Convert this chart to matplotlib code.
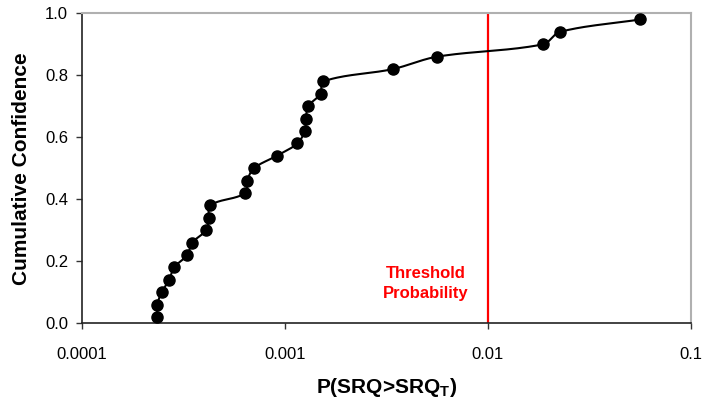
import numpy as np
import matplotlib
matplotlib.use("Agg")
import matplotlib.pyplot as plt

plt.rcParams['font.family'] = ['Liberation Sans', 'DejaVu Sans']
plt.rcParams['mathtext.fontset'] = 'custom'
plt.rcParams['mathtext.rm'] = 'Liberation Sans:bold'
plt.rcParams['mathtext.bf'] = 'Liberation Sans:bold'

# Data
prob = [2.35e-4, 2.35e-4, 2.47e-4, 2.69e-4, 2.84e-4, 3.30e-4, 3.49e-4, 4.08e-4,
        4.22e-4, 4.27e-4, 6.37e-4, 6.52e-4, 7.03e-4, 9.10e-4, 1.15e-3, 1.25e-3,
        1.27e-3, 1.30e-3, 1.50e-3, 1.54e-3, 3.40e-3, 5.61e-3, 0.0187, 0.0226, 0.0561]
conf = [0.02, 0.06, 0.10, 0.14, 0.18, 0.22, 0.26, 0.30, 0.34, 0.38, 0.42, 0.46,
        0.50, 0.54, 0.58, 0.62, 0.66, 0.70, 0.74, 0.78, 0.82, 0.86, 0.90, 0.94, 0.98]
threshold = 0.01
xticks = [0.0001, 0.001, 0.01, 0.1]
xticklabels = ['0.0001', '0.001', '0.01', '0.1']
yticks = [0.0, 0.2, 0.4, 0.6, 0.8, 1.0]

fig = plt.figure(figsize=(7.02, 4.0), dpi=100)
ax = fig.add_axes([0.1168, 0.19175, 0.9843 - 0.1168, 0.9668 - 0.19175])

# Smoothed line: Bezier segments with tangent lengths scaled by segment length
SX, SY = 203.0, 310.0
u = (np.log10(prob) + 4) * SX
v = np.array(conf) * SY
P = np.column_stack([u, v])
n = len(P)
tang = np.zeros_like(P)
for i in range(n):
    a = P[max(i - 1, 0)]
    b = P[min(i + 1, n - 1)]
    d = b - a
    nd = np.hypot(*d)
    tang[i] = d / nd if nd > 0 else 0
curve = []
for i in range(n - 1):
    p1, p2 = P[i], P[i + 1]
    L = np.hypot(*(p2 - p1))
    c1 = p1 + tang[i] * L / 3.0
    c2 = p2 - tang[i + 1] * L / 3.0
    t = np.linspace(0, 1, 30)[:, None]
    bz = ((1 - t) ** 3) * p1 + 3 * ((1 - t) ** 2) * t * c1 + 3 * (1 - t) * t ** 2 * c2 + t ** 3 * p2
    curve.append(bz)
curve = np.vstack(curve)
cx = 10 ** (curve[:, 0] / SX - 4)
cy = curve[:, 1] / SY

ax.plot(cx, cy, color='black', lw=1.5, zorder=3)
ax.plot(prob, conf, 'o', color='black', markersize=8, zorder=4)
ax.axvline(threshold, color='#ff0000', lw=1.6, zorder=2)
ax.text(0.00495, 0.128, 'Threshold\nProbability', color='#ff0000', fontsize=12,
        fontweight='bold', ha='center', va='center', linespacing=1.45)

ax.set_xscale('log')
ax.set_xlim(0.0001, 0.1)
ax.set_ylim(0, 1.0)
ax.set_xticks(xticks)
ax.set_xticklabels(xticklabels)
ax.xaxis.set_minor_locator(matplotlib.ticker.NullLocator())
ax.set_yticks(yticks)
ax.set_yticklabels([f'{t:.1f}' for t in yticks])
ax.tick_params(axis='both', labelsize=12, direction='out', length=4, width=1,
               color='#333333')
ax.tick_params(axis='x', pad=13)
ax.tick_params(axis='y', pad=6)

for s in ['left', 'bottom']:
    ax.spines[s].set_color('#222222')
    ax.spines[s].set_linewidth(1.2)
for s in ['top', 'right']:
    ax.spines[s].set_color('#b0b0b0')
    ax.spines[s].set_linewidth(1.5)

ax.set_xlabel(r'P(SRQ>SRQ$_\mathbf{T}$)', fontsize=15, fontweight='bold')
ax.set_ylabel('Cumulative Confidence', fontsize=15, fontweight='bold')
ax.xaxis.set_label_coords(0.5, -0.2055)
ax.xaxis.label.set_va('center')
ax.yaxis.set_label_coords(-0.099, 0.5)
ax.yaxis.label.set_va('center')
ax.yaxis.label.set_ha('center')

fig.savefig('out.png', dpi=100)
